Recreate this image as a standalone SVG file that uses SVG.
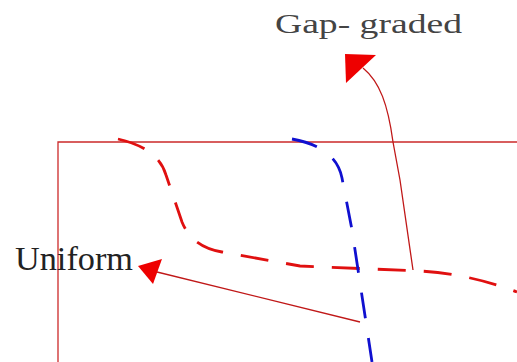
<svg xmlns="http://www.w3.org/2000/svg" width="517" height="362" viewBox="0 0 517 362">
<style>
.frame{fill:none;stroke:#cc2a2a;stroke-width:1.3}
.red{fill:none;stroke:#e01010;stroke-width:2.8;stroke-dasharray:28 18}
.blue{fill:none;stroke:#1010d0;stroke-width:2.8;stroke-dasharray:26 20}
.lead{fill:none;stroke:#c01818;stroke-width:1.3}
.head{fill:#ee0000}
.lbl{font-family:"Liberation Serif",serif}
</style>
<rect width="517" height="362" fill="#fff"/>
<g id="frame"><path class="frame" d="M517,142 H58 V362"/></g>
<g id="uniform-curve"><path class="red" d="M118,139 Q158,148 166,175 L182,222 Q192,247 222,252 L300,266 L420,271 Q470,274 517,292"/></g>
<g id="gap-curve"><path class="blue" d="M292,139 Q336,147 342,178 L352,230 L372,362"/></g>
<g id="label-gap"><text class="lbl" x="275" y="33" font-size="27" textLength="187" lengthAdjust="spacingAndGlyphs" fill="#444">Gap- graded</text></g>
<g id="label-uniform"><text class="lbl" x="15" y="270" font-size="33" textLength="118" lengthAdjust="spacingAndGlyphs" fill="#222">Uniform</text></g>
<g id="connectors">
<path class="lead" d="M413,270 L400,180 L393,142 C388,105 380,82 363,68"/>
<polygon class="head" points="345,54 376,55 346,83"/>
<path class="lead" d="M360,322 L157,272"/>
<polygon class="head" points="138,266 162,259 153,284"/>
</g>
</svg>
